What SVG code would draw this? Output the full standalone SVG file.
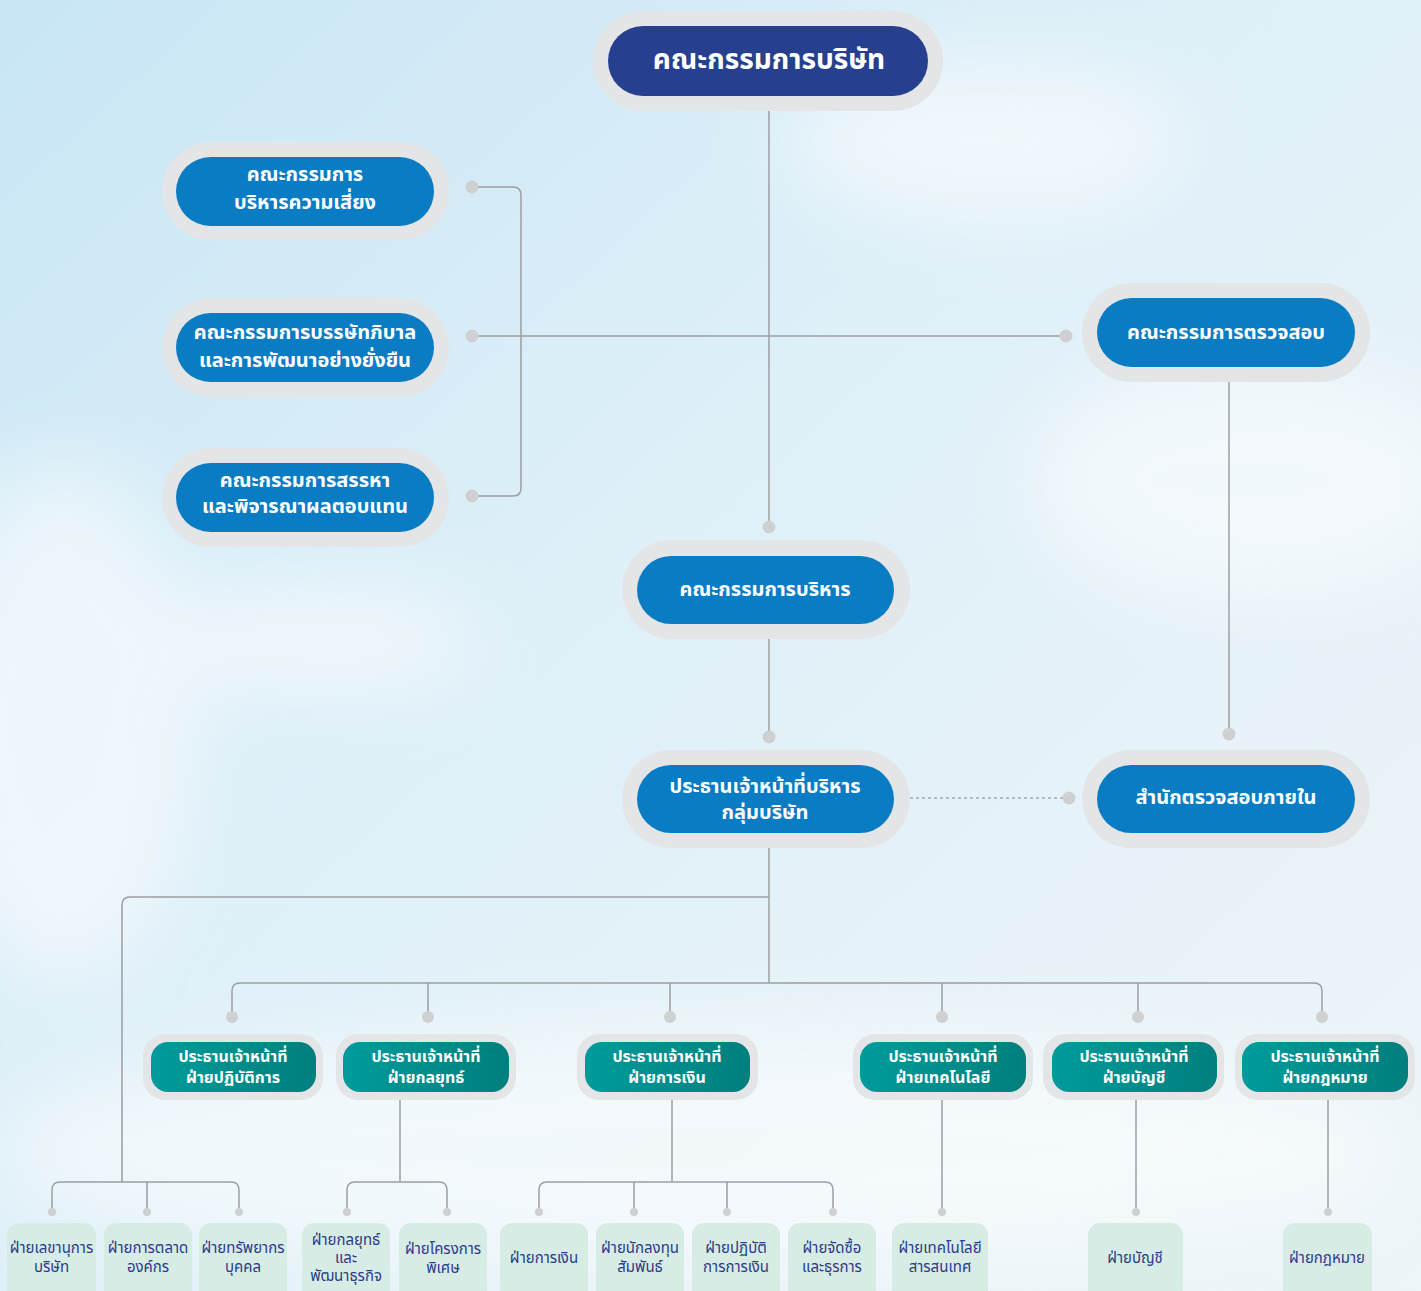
<svg xmlns="http://www.w3.org/2000/svg" width="1421" height="1291" viewBox="0 0 1421 1291">
<defs>
<linearGradient id="bg" x1="0" y1="0" x2="1" y2="1">
<stop offset="0" stop-color="#c8e6f5"/>
<stop offset="0.45" stop-color="#dff0f8"/>
<stop offset="1" stop-color="#eef5f8"/>
</linearGradient>
<linearGradient id="teal" x1="0" y1="0" x2="1" y2="0">
<stop offset="0" stop-color="#009b9b"/>
<stop offset="1" stop-color="#007f7d"/>
</linearGradient>
<filter id="blur" x="-50%" y="-50%" width="200%" height="200%"><feGaussianBlur stdDeviation="40"/></filter>
</defs>
<style>
.ring{fill:#e4e5e7}
.blue{fill:#0a7cc4}
.navy{fill:#26408f}
.tl{fill:url(#teal)}
.leaf{fill:#d7ece5}
.t{font-family:"Noto Sans Thai","Noto Sans","Tahoma",sans-serif;text-anchor:middle;dominant-baseline:central}
.w{fill:#ffffff;font-weight:700}
.big{font-size:28px}
.mid{font-size:20px}
.sm{font-size:16px}
.lf{font-size:15px;fill:#2b3a8c}
.ln{fill:none;stroke:#9c9fa3;stroke-width:1.5}
.dot{fill:#cfd0d2}
</style>
<rect width="1421" height="1291" fill="url(#bg)"/>
<g filter="url(#blur)" opacity="0.55">
<ellipse cx="60" cy="720" rx="140" ry="260" fill="#ffffff"/>
<ellipse cx="300" cy="640" rx="180" ry="60" fill="#ffffff"/>
<ellipse cx="1250" cy="480" rx="220" ry="120" fill="#ffffff"/>
<ellipse cx="980" cy="140" rx="200" ry="80" fill="#ffffff"/>
<ellipse cx="700" cy="1150" rx="700" ry="120" fill="#ffffff"/>
</g>

<g id="connectors">
<path class="ln" d="M769 111 V527"/>
<path class="ln" d="M471 187 H513 Q521 187 521 195 V488 Q521 496 513 496 H471"/>
<path class="ln" d="M471 336 H1066"/>
<path class="ln" d="M1229 382 V734"/>
<path class="ln" d="M769 639 V737"/>
<path d="M910 798 H1069" fill="none" stroke="#a5a8ad" stroke-width="1.3" stroke-dasharray="3 3"/>
<path class="ln" d="M769 848 V983"/>
<path class="ln" d="M769 897 H130 Q122 897 122 905 V1182"/>
<path class="ln" d="M232 1017 V991 Q232 983 240 983 H1314 Q1322 983 1322 991 V1017"/>
<path class="ln" d="M428 983 V1017 M670 983 V1017 M942 983 V1017 M1138 983 V1017"/>
<path class="ln" d="M52 1212 V1190 Q52 1182 60 1182 H231 Q239 1182 239 1190 V1212 M147 1182 V1212"/>
<path class="ln" d="M400 1100 V1182 M347 1212 V1190 Q347 1182 355 1182 H439 Q447 1182 447 1190 V1212"/>
<path class="ln" d="M672 1100 V1182 M539 1212 V1190 Q539 1182 547 1182 H825 Q833 1182 833 1190 V1212 M634 1182 V1212 M727 1182 V1212"/>
<path class="ln" d="M942 1100 V1212 M1136 1100 V1212 M1328 1100 V1212"/>
<circle class="dot" cx="472" cy="187" r="6.5"/>
<circle class="dot" cx="472" cy="336" r="6.5"/>
<circle class="dot" cx="472" cy="496" r="6.5"/>
<circle class="dot" cx="1066" cy="336" r="6.5"/>
<circle class="dot" cx="769" cy="527" r="6.5"/>
<circle class="dot" cx="769" cy="737" r="6.5"/>
<circle class="dot" cx="1229" cy="734" r="6.5"/>
<circle class="dot" cx="1069" cy="798" r="6.5"/>
<circle class="dot" cx="232" cy="1017" r="6"/>
<circle class="dot" cx="428" cy="1017" r="6"/>
<circle class="dot" cx="670" cy="1017" r="6"/>
<circle class="dot" cx="942" cy="1017" r="6"/>
<circle class="dot" cx="1138" cy="1017" r="6"/>
<circle class="dot" cx="1322" cy="1017" r="6"/>
<circle class="dot" cx="52" cy="1212" r="4"/>
<circle class="dot" cx="147" cy="1212" r="4"/>
<circle class="dot" cx="239" cy="1212" r="4"/>
<circle class="dot" cx="347" cy="1212" r="4"/>
<circle class="dot" cx="447" cy="1212" r="4"/>
<circle class="dot" cx="539" cy="1212" r="4"/>
<circle class="dot" cx="634" cy="1212" r="4"/>
<circle class="dot" cx="727" cy="1212" r="4"/>
<circle class="dot" cx="833" cy="1212" r="4"/>
<circle class="dot" cx="942" cy="1212" r="4"/>
<circle class="dot" cx="1136" cy="1212" r="4"/>
<circle class="dot" cx="1328" cy="1212" r="4"/>
</g>

<g id="board">
<rect class="ring" x="593" y="11" width="350" height="100" rx="50"/>
<rect class="navy" x="608" y="26" width="320" height="70" rx="35"/>
<text class="t w big" x="769" y="60">คณะกรรมการบริษัท</text>
</g>

<g id="risk">
<rect class="ring" x="162" y="142" width="287" height="98" rx="49"/>
<rect class="blue" x="176" y="157" width="258" height="69" rx="34.5"/>
<text class="t w mid" x="305" y="175">คณะกรรมการ</text>
<text class="t w mid" x="305" y="203">บริหารความเสี่ยง</text>
</g>

<g id="governance">
<rect class="ring" x="162" y="298" width="287" height="99" rx="49.5"/>
<rect class="blue" x="176" y="313" width="258" height="69" rx="34.5"/>
<text class="t w mid" x="305" y="333">คณะกรรมการบรรษัทภิบาล</text>
<text class="t w mid" x="305" y="361">และการพัฒนาอย่างยั่งยืน</text>
</g>

<g id="nomination">
<rect class="ring" x="162" y="448" width="287" height="99" rx="49.5"/>
<rect class="blue" x="176" y="463" width="258" height="69" rx="34.5"/>
<text class="t w mid" x="305" y="481">คณะกรรมการสรรหา</text>
<text class="t w mid" x="305" y="507">และพิจารณาผลตอบแทน</text>
</g>

<g id="audit">
<rect class="ring" x="1082" y="283" width="288" height="99" rx="49.5"/>
<rect class="blue" x="1097" y="298" width="258" height="69" rx="34.5"/>
<text class="t w mid" x="1226" y="333">คณะกรรมการตรวจสอบ</text>
</g>

<g id="executive">
<rect class="ring" x="622" y="540" width="288" height="99" rx="49.5"/>
<rect class="blue" x="637" y="556" width="257" height="68" rx="34"/>
<text class="t w mid" x="765" y="590">คณะกรรมการบริหาร</text>
</g>

<g id="ceo">
<rect class="ring" x="622" y="750" width="288" height="98" rx="49"/>
<rect class="blue" x="637" y="765" width="257" height="68" rx="34"/>
<text class="t w mid" x="765" y="787">ประธานเจ้าหน้าที่บริหาร</text>
<text class="t w mid" x="765" y="813">กลุ่มบริษัท</text>
</g>

<g id="internal-audit">
<rect class="ring" x="1082" y="750" width="288" height="98" rx="49"/>
<rect class="blue" x="1097" y="765" width="258" height="68" rx="34"/>
<text class="t w mid" x="1226" y="798">สำนักตรวจสอบภายใน</text>
</g>

<g id="coo">
<rect class="ring" x="143" y="1034" width="180" height="66" rx="22"/>
<rect class="tl" x="151" y="1042" width="165" height="50" rx="17"/>
<text class="t w sm" x="233" y="1057">ประธานเจ้าหน้าที่</text>
<text class="t w sm" x="233" y="1078">ฝ่ายปฏิบัติการ</text>
</g>

<g id="cso">
<rect class="ring" x="336" y="1034" width="180" height="66" rx="22"/>
<rect class="tl" x="343" y="1042" width="166" height="50" rx="17"/>
<text class="t w sm" x="426" y="1057">ประธานเจ้าหน้าที่</text>
<text class="t w sm" x="426" y="1078">ฝ่ายกลยุทธ์</text>
</g>

<g id="cfo">
<rect class="ring" x="577" y="1034" width="181" height="66" rx="22"/>
<rect class="tl" x="585" y="1042" width="165" height="50" rx="17"/>
<text class="t w sm" x="667" y="1057">ประธานเจ้าหน้าที่</text>
<text class="t w sm" x="667" y="1078">ฝ่ายการเงิน</text>
</g>

<g id="cto">
<rect class="ring" x="853" y="1034" width="180" height="66" rx="22"/>
<rect class="tl" x="860" y="1042" width="166" height="50" rx="17"/>
<text class="t w sm" x="943" y="1057">ประธานเจ้าหน้าที่</text>
<text class="t w sm" x="943" y="1078">ฝ่ายเทคโนโลยี</text>
</g>

<g id="cao">
<rect class="ring" x="1043" y="1034" width="181" height="66" rx="22"/>
<rect class="tl" x="1052" y="1042" width="165" height="50" rx="17"/>
<text class="t w sm" x="1134" y="1057">ประธานเจ้าหน้าที่</text>
<text class="t w sm" x="1134" y="1078">ฝ่ายบัญชี</text>
</g>

<g id="clo">
<rect class="ring" x="1235" y="1034" width="180" height="66" rx="22"/>
<rect class="tl" x="1242" y="1042" width="166" height="50" rx="17"/>
<text class="t w sm" x="1325" y="1057">ประธานเจ้าหน้าที่</text>
<text class="t w sm" x="1325" y="1078">ฝ่ายกฎหมาย</text>
</g>

<g id="secretary">
<rect class="leaf" x="7" y="1223" width="89" height="90" rx="12"/>
<text class="t lf" x="51.5" y="1248">ฝ่ายเลขานุการ</text>
<text class="t lf" x="51.5" y="1267">บริษัท</text>
</g>
<g id="marketing">
<rect class="leaf" x="104" y="1223" width="88" height="90" rx="12"/>
<text class="t lf" x="148" y="1248">ฝ่ายการตลาด</text>
<text class="t lf" x="148" y="1267">องค์กร</text>
</g>
<g id="hr">
<rect class="leaf" x="199" y="1223" width="88" height="90" rx="12"/>
<text class="t lf" x="243" y="1248">ฝ่ายทรัพยากร</text>
<text class="t lf" x="243" y="1267">บุคคล</text>
</g>
<g id="strategy">
<rect class="leaf" x="302" y="1223" width="88" height="90" rx="12"/>
<text class="t lf" x="346" y="1240">ฝ่ายกลยุทธ์</text>
<text class="t lf" x="346" y="1258">และ</text>
<text class="t lf" x="346" y="1276">พัฒนาธุรกิจ</text>
</g>
<g id="special">
<rect class="leaf" x="399" y="1223" width="88" height="90" rx="12"/>
<text class="t lf" x="443" y="1249">ฝ่ายโครงการ</text>
<text class="t lf" x="443" y="1268">พิเศษ</text>
</g>
<g id="finance">
<rect class="leaf" x="500" y="1223" width="88" height="90" rx="12"/>
<text class="t lf" x="544" y="1258">ฝ่ายการเงิน</text>
</g>
<g id="ir">
<rect class="leaf" x="596" y="1223" width="88" height="90" rx="12"/>
<text class="t lf" x="640" y="1248">ฝ่ายนักลงทุน</text>
<text class="t lf" x="640" y="1267">สัมพันธ์</text>
</g>
<g id="finops">
<rect class="leaf" x="692" y="1223" width="88" height="90" rx="12"/>
<text class="t lf" x="736" y="1248">ฝ่ายปฏิบัติ</text>
<text class="t lf" x="736" y="1267">การการเงิน</text>
</g>
<g id="procurement">
<rect class="leaf" x="788" y="1223" width="88" height="90" rx="12"/>
<text class="t lf" x="832" y="1248">ฝ่ายจัดซื้อ</text>
<text class="t lf" x="832" y="1267">และธุรการ</text>
</g>
<g id="it">
<rect class="leaf" x="892" y="1223" width="96" height="90" rx="12"/>
<text class="t lf" x="940" y="1248">ฝ่ายเทคโนโลยี</text>
<text class="t lf" x="940" y="1267">สารสนเทศ</text>
</g>
<g id="accounting">
<rect class="leaf" x="1088" y="1223" width="95" height="90" rx="12"/>
<text class="t lf" x="1135" y="1258">ฝ่ายบัญชี</text>
</g>
<g id="legal">
<rect class="leaf" x="1283" y="1223" width="89" height="90" rx="12"/>
<text class="t lf" x="1327" y="1258">ฝ่ายกฎหมาย</text>
</g>
</svg>
